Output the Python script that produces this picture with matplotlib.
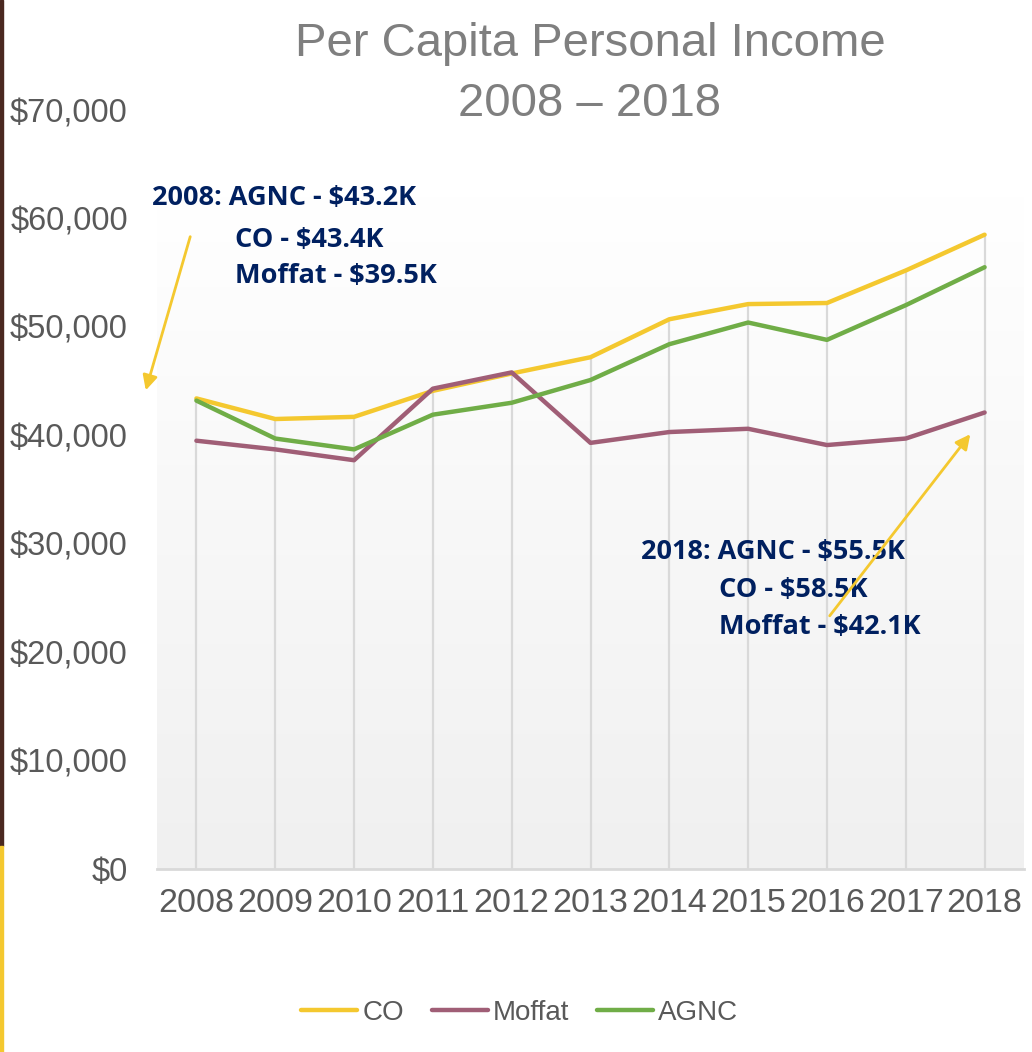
import numpy as np
import matplotlib.pyplot as plt
from matplotlib.patches import Rectangle, FancyArrowPatch
from matplotlib.colors import LinearSegmentedColormap

years = ['2008', '2009', '2010', '2011', '2012', '2013', '2014', '2015', '2016', '2017', '2018']
co = [43400, 41500, 41700, 44100, 45700, 47200, 50700, 52100, 52200, 55200, 58500]
moffat = [39500, 38700, 37700, 44300, 45800, 39300, 40300, 40600, 39100, 39700, 42100]
agnc = [43200, 39700, 38700, 41900, 43000, 45100, 48400, 50400, 48800, 52000, 55500]

note_2008 = ['2008: AGNC - $43.2K', 'CO - $43.4K', 'Moffat - $39.5K']
note_2018 = ['2018: AGNC - $55.5K', 'CO - $58.5K', 'Moffat - $42.1K']

W, H = 1032, 1052
plt.rcParams['font.family'] = ['Liberation Sans', 'DejaVu Sans']

fig = plt.figure(figsize=(W / 100, H / 100), dpi=100)


def fx(x, y):
    return x / W, 1 - y / H


ax = fig.add_axes([157 / W, 1 - 869 / H, (1024 - 157) / W, (869 - 110) / H])
x = np.arange(len(years))

# background gradient of the plot area, light grey at the bottom to white at the top
grad = LinearSegmentedColormap.from_list('g', ['#ffffff', '#f0f0f0'])
ax.imshow(np.linspace(1, 0, 256).reshape(-1, 1), aspect='auto', cmap=grad,
          extent=(-0.5, 10.5, 0, 62000), zorder=0, origin='lower')
ax.set_ylim(0, 70000)
ax.set_xlim(-0.5, 10.5)

# drop lines
tops = np.maximum(np.maximum(co, moffat), agnc)
ax.vlines(x, 0, tops, color='#d9d9d9', lw=1.6, zorder=1)

ax.plot(x, co, color='#f4c82f', lw=3.2, label='CO', zorder=3, solid_capstyle='round')
ax.plot(x, moffat, color='#a05e76', lw=3.2, label='Moffat', zorder=3, solid_capstyle='round')
ax.plot(x, agnc, color='#70ad47', lw=3.2, label='AGNC', zorder=3, solid_capstyle='round')

for s in ['top', 'right', 'left']:
    ax.spines[s].set_visible(False)
ax.spines['bottom'].set_color('#d9d9d9')
ax.spines['bottom'].set_linewidth(2)

ax.set_xticks(x)
ax.set_xticklabels(years)
ax.set_yticks(range(0, 70001, 10000))
ax.set_yticklabels(['$' + format(v, ',') for v in range(0, 70001, 10000)])
ax.tick_params(axis='y', length=0, pad=21, labelsize=23.5, labelcolor='#595959')
ax.tick_params(axis='x', length=0, pad=14, labelsize=24.5, labelcolor='#595959')

fig.text(590 / W, 1 - 74 / H, 'Per Capita Personal Income\n2008 \u2013 2018',
         ha='center', va='center', fontsize=34, color='#7f7f7f', linespacing=1.45)

# annotations
navy = '#002060'
ann = dict(fontsize=19.5, fontweight='bold', color=navy, va='center', ha='left',
           family=['Open Sans', 'DejaVu Sans'])
fig.text(*fx(152, 198), note_2008[0], **ann)
fig.text(*fx(235, 240), note_2008[1], **ann)
fig.text(*fx(235, 276), note_2008[2], **ann)
fig.text(*fx(641, 552), note_2018[0], **ann)
fig.text(*fx(719, 590), note_2018[1], **ann)
fig.text(*fx(719, 627), note_2018[2], **ann)

for p0, p1 in [((191, 234), (145, 393)), ((828, 618), (972, 432))]:
    fig.patches.append(FancyArrowPatch(fx(*p0), fx(*p1), transform=fig.transFigure,
                                       arrowstyle='-|>', mutation_scale=22,
                                       color='#f4c82f', lw=2, zorder=5))

# left edge bars
fig.patches.append(Rectangle((0, 1 - 846 / H), 3 / W, 846 / H, transform=fig.transFigure,
                             color='#4a2820', zorder=5))
fig.patches.append(Rectangle((0, 0), 3 / W, 1 - 846 / H, transform=fig.transFigure,
                             color='#f4c82f', zorder=5))

fig.legend(loc='center', bbox_to_anchor=fx(520, 1013), ncol=3, frameon=False,
           fontsize=20, labelcolor='#595959', handlelength=2.0, handletextpad=0.2,
           columnspacing=1.0)

fig.savefig('out.png', dpi=100)
